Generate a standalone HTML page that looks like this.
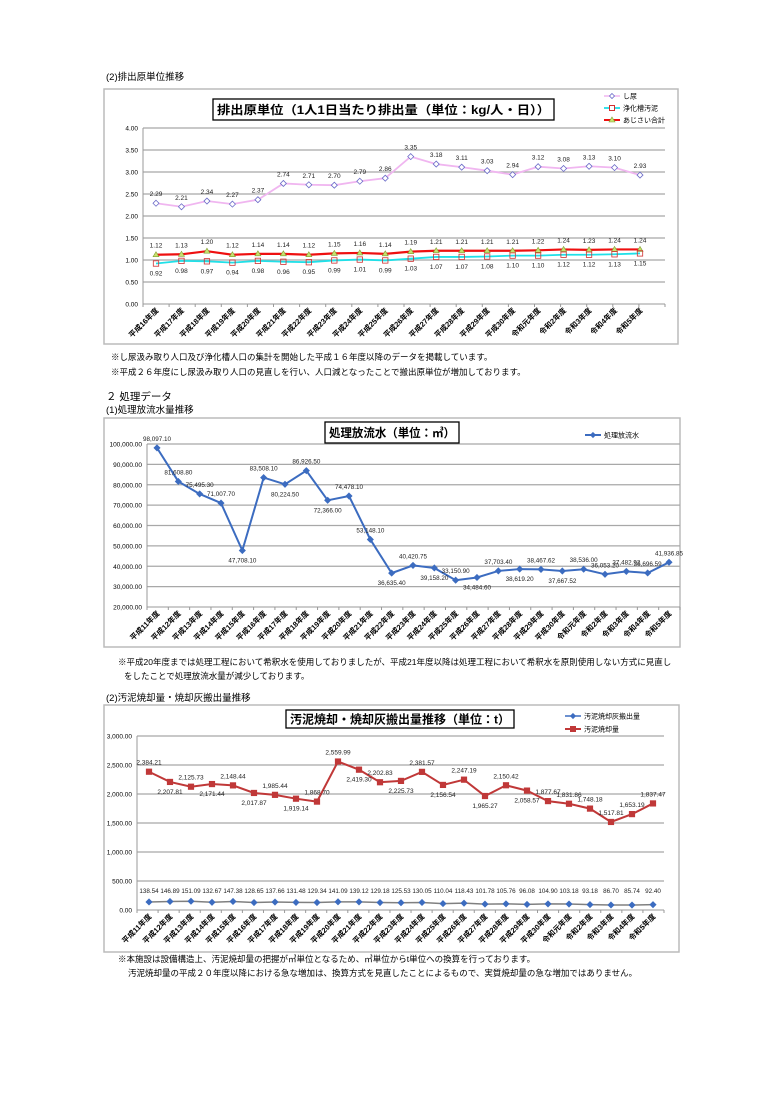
<!DOCTYPE html>
<html><head><meta charset="utf-8"><style>
html,body{margin:0;padding:0;background:#fff}
svg{display:block;font-family:"Liberation Sans","Noto Sans CJK JP",sans-serif}
</style></head><body>
<svg id="s" width="780" height="1103" viewBox="0 0 780 1103" xmlns="http://www.w3.org/2000/svg">
<g font-size="9.5" fill="#000">
<text x="106" y="80">(2)排出原単位推移</text>
<text x="111" y="360" font-size="8.5">※し尿汲み取り人口及び浄化槽人口の集計を開始した平成１６年度以降のデータを掲載しています。</text>
<text x="111" y="375" font-size="8.5">※平成２６年度にし尿汲み取り人口の見直しを行い、人口減となったことで搬出原単位が増加しております。</text>
<text x="106" y="400" font-size="10.5">２  処理データ</text>
<text x="106" y="413">(1)処理放流水量推移</text>
<text x="118" y="665" font-size="8.5">※平成20年度までは処理工程において希釈水を使用しておりましたが、平成21年度以降は処理工程において希釈水を原則使用しない方式に見直し</text>
<text x="124" y="679" font-size="8.5">をしたことで処理放流水量が減少しております。</text>
<text x="106" y="701">(2)汚泥焼却量・焼却灰搬出量推移</text>
<text x="118" y="962" font-size="8.5">※本施設は設備構造上、汚泥焼却量の把握が㎥単位となるため、㎥単位からt単位への換算を行っております。</text>
<text x="128" y="976" font-size="8.5">汚泥焼却量の平成２０年度以降における急な増加は、換算方式を見直したことによるもので、実質焼却量の急な増加ではありません。</text>
</g>
</svg>
<script>
var S=document.getElementById('s'),NS='http://www.w3.org/2000/svg';
function el(t,a,txt){var e=document.createElementNS(NS,t);for(var k in a)e.setAttribute(k,a[k]);if(txt!=null)e.textContent=txt;S.appendChild(e);return e;}
function fmt(v,d){var s=v.toFixed(d),p=s.split('.');p[0]=p[0].replace(/\B(?=(\d{3})+(?!\d))/g,',');return p.join('.');}
function labels(a,b){var r=[];for(var i=a;i<=30;i++)r.push('平成'+i+'年度');r.push('令和元年度');for(var j=2;j<=5;j++)r.push('令和'+j+'年度');return r;}
function chart(c){
 el('rect',{x:c.bx,y:c.by,width:c.bw,height:c.bh,fill:'#fff',stroke:'#bbb','stroke-width':1.5});
 var n=c.xl.length,sp=(c.px1-c.px0)/(n-1);
 function Y(v){return c.y0+(v-c.vmin)/(c.vmax-c.vmin)*(c.y1-c.y0);}
 function X(i){return c.px0+i*sp;}
 for(var v=c.vmin;v<=c.vmax+1e-9;v+=c.step){var y=Y(v);
  el('line',{x1:c.pl,x2:c.pr,y1:y,y2:y,stroke:v==c.vmin?'#999':'#a8a8a8','stroke-width':v==c.vmin?1:1.3});
  el('text',{x:c.pl-5,y:y+2.5,'font-size':6.5,'text-anchor':'end'},fmt(v,2));}
 el('line',{x1:c.pl,x2:c.pl,y1:c.y0,y2:c.y1,stroke:'#999'});
 for(var i=0;i<=n;i++){var tx=c.pl+(i)*(c.pr-c.pl)/n;el('line',{x1:tx,x2:tx,y1:c.y0,y2:c.y0+3,stroke:'#999'});}
 for(var i=0;i<n;i++){var x=X(i)+3,y=c.y0+7;
  el('text',{x:x,y:y,'font-size':7.5,'font-weight':'bold','text-anchor':'end',transform:'rotate(-45 '+x+' '+y+')'},c.xl[i]);}
 el('rect',{x:c.tx,y:c.ty,width:c.tw,height:c.th,fill:'#fff',stroke:'#000','stroke-width':1.3});
 el('text',{x:c.tx+4,y:c.ty+c.th/2+4.5,'font-size':12,'font-weight':'bold',textLength:c.tw-8,lengthAdjust:'spacingAndGlyphs'},c.title);
 c.series.forEach(function(s){
  var pts=s.d.map(function(v,i){return X(i)+','+Y(v);}).join(' ');
  el('polyline',{points:pts,fill:'none',stroke:s.col,'stroke-width':s.w});
  s.d.forEach(function(v,i){var x=X(i),y=Y(v);
   if(s.m=='dia')el('path',{d:'M'+x+' '+(y-3)+'L'+(x+3)+' '+y+'L'+x+' '+(y+3)+'L'+(x-3)+' '+y+'Z',fill:s.mf||s.col,stroke:s.ms||s.col,'stroke-width':0.8});
   else if(s.m=='sq')el('rect',{x:x-2.7,y:y-2.7,width:5.4,height:5.4,fill:s.mf,stroke:s.ms,'stroke-width':0.8});
   else if(s.m=='tri')el('path',{d:'M'+x+' '+(y-3)+'L'+(x+3)+' '+(y+2)+'L'+(x-3)+' '+(y+2)+'Z',fill:s.mf,stroke:s.ms,'stroke-width':0.6});
   var off=s.pos?(s.pos[i]?-7:12):0;var ly=s.fixY!=null?s.fixY:y+off;
   el('text',{x:x,y:ly,'font-size':s.fs||6.5,'text-anchor':'middle',fill:'#222'},fmt(v,2));});
 });
 c.legend.forEach(function(l){
  el('line',{x1:l.x,x2:l.x+16,y1:l.y,y2:l.y,stroke:l.col,'stroke-width':l.w});
  var x=l.x+8,y=l.y;
  if(l.m=='dia')el('path',{d:'M'+x+' '+(y-2.5)+'L'+(x+2.5)+' '+y+'L'+x+' '+(y+2.5)+'L'+(x-2.5)+' '+y+'Z',fill:l.mf,stroke:l.ms,'stroke-width':0.8});
  if(l.m=='sq')el('rect',{x:x-2.5,y:y-2.5,width:5,height:5,fill:l.mf,stroke:l.ms});
  if(l.m=='tri')el('path',{d:'M'+x+' '+(y-3)+'L'+(x+3)+' '+(y+2)+'L'+(x-3)+' '+(y+2)+'Z',fill:l.mf,stroke:l.ms,'stroke-width':0.6});
  el('text',{x:l.x+19,y:l.y+2.5,'font-size':7},l.t);});
}
var l1=labels(16);
chart({bx:104,by:89,bw:574,bh:255,pl:143,pr:665,px0:156,px1:640,y0:304,y1:128,vmin:0,vmax:4,step:0.5,xl:l1,
 tx:213,ty:99,tw:341,th:21,title:'排出原単位（1人1日当たり排出量（単位：kg/人・日））',
 series:[
 {d:[2.29,2.21,2.34,2.27,2.37,2.74,2.71,2.70,2.79,2.86,3.35,3.18,3.11,3.03,2.94,3.12,3.08,3.13,3.10,2.93],col:'#f0b6f0',w:1.8,m:'dia',mf:'#fff',ms:'#6a6ac8',pos:Array(20).fill(1),fs:6.5},
 {d:[1.12,1.13,1.20,1.12,1.14,1.14,1.12,1.15,1.16,1.14,1.19,1.21,1.21,1.21,1.21,1.22,1.24,1.23,1.24,1.24],col:'#ee1010',w:2.2,m:'tri',mf:'#c8e070',ms:'#80a030',fixY:null,pos:Array(20).fill(1)},
 {d:[0.92,0.98,0.97,0.94,0.98,0.96,0.95,0.99,1.01,0.99,1.03,1.07,1.07,1.08,1.10,1.10,1.12,1.12,1.13,1.15],col:'#20e0e8',w:1.8,m:'sq',mf:'none',ms:'#d03030',pos:Array(20).fill(0)}],
 legend:[{x:604,y:96,col:'#f0b6f0',w:1.5,m:'dia',mf:'#fff',ms:'#6a6ac8',t:'し尿'},{x:604,y:108,col:'#20e0e8',w:1.8,m:'sq',mf:'#fff',ms:'#d03030',t:'浄化槽汚泥'},{x:604,y:120,col:'#ee1010',w:2,m:'tri',mf:'#c8e070',ms:'#80a030',t:'あじさい合計'}]});
var l2=labels(11);
var p2=[1,1,1,1,0,1,0,1,0,1,1,0,1,0,1,0,1,0,1,0,1,1,1,1,1];
chart({bx:104,by:418,bw:576,bh:229,pl:147,pr:680,px0:157,px1:669,y0:607,y1:444,vmin:20000,vmax:100000,step:10000,xl:l2,
 tx:325,ty:422,tw:134,th:21,title:'処理放流水（単位：㎥）',
 series:[{d:[98097.10,81608.80,75495.30,71007.70,47708.10,83508.10,80224.50,86926.50,72366.00,74478.10,53148.10,36635.40,40420.75,39158.20,33150.90,34484.60,37703.40,38619.20,38467.62,37667.52,38536.00,36053.20,37482.92,36696.59,41936.85],
  col:'#3c6cc0',w:2,m:'dia',mf:'#3c6cc0',ms:'#3c6cc0',pos:p2,fs:6.3}],
 legend:[{x:585,y:435,col:'#3c6cc0',w:2,m:'dia',mf:'#3c6cc0',ms:'#3c6cc0',t:'処理放流水'}]});
var p3=[1,0,1,0,1,0,1,0,1,1,0,1,0,1,0,1,0,1,0,1,1,1,1,1,1];
chart({bx:104,by:705,bw:575,bh:247,pl:137,pr:664,px0:149,px1:653,y0:910,y1:736,vmin:0,vmax:3000,step:500,xl:l2,
 tx:286,ty:710,tw:228,th:18,title:'汚泥焼却・焼却灰搬出量推移（単位：t）',
 series:[{d:[2384.21,2207.81,2125.73,2171.44,2148.44,2017.87,1985.44,1919.14,1868.70,2559.99,2419.30,2202.83,2225.73,2381.57,2156.54,2247.19,1965.27,2150.42,2058.57,1877.67,1831.86,1748.18,1517.81,1653.19,1837.47],
  col:'#c03838',w:2,m:'sq',mf:'#c03838',ms:'#c03838',pos:p3,fs:6.5},
 {d:[138.54,146.89,151.09,132.67,147.38,128.65,137.66,131.48,129.34,141.09,139.12,129.18,125.53,130.05,110.04,118.43,101.78,105.76,96.08,104.90,103.18,93.18,86.70,85.74,92.40],
  col:'#808080',w:1.5,m:'dia',mf:'#3c6cc0',ms:'#3c6cc0',fixY:893,fs:6.3}],
 legend:[{x:565,y:716,col:'#3c6cc0',w:1.5,m:'dia',mf:'#3c6cc0',ms:'#3c6cc0',t:'汚泥焼却灰搬出量'},{x:565,y:729,col:'#c03838',w:2,m:'sq',mf:'#c03838',ms:'#c03838',t:'汚泥焼却量'}]});
</script>
</body></html>
